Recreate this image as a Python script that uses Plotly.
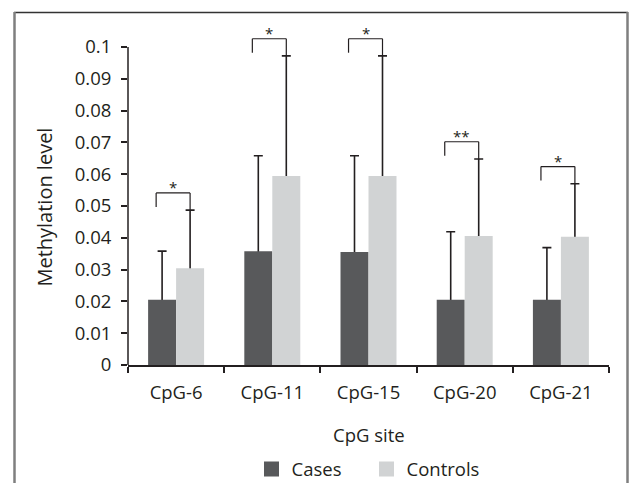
import plotly.graph_objects as go

# ---------------- data ----------------
sites = ["CpG-6", "CpG-11", "CpG-15", "CpG-20", "CpG-21"]
cases = [0.0205, 0.0358, 0.0355, 0.0205, 0.0205]
cases_sd = [0.0153, 0.0300, 0.0303, 0.0214, 0.0164]
controls = [0.0304, 0.0594, 0.0594, 0.0406, 0.0403]
controls_sd = [0.0183, 0.0378, 0.0378, 0.0242, 0.0167]
significance = ["*", "*", "*", "**", "*"]
y_tick_values = [0, 0.01, 0.02, 0.03, 0.04, 0.05, 0.06, 0.07, 0.08, 0.09, 0.1]
y_tick_labels = ["0", "0.01", "0.02", "0.03", "0.04", "0.05", "0.06", "0.07", "0.08", "0.09", "0.1"]

# ---------------- style ----------------
CASES_COLOR = "#58595b"
CONTROLS_COLOR = "#d1d3d4"
INK = "#231f20"
FONT = "Open Sans"
FS = 18.5

W, H = 636, 483
ML, MR, MT, MB = 128, 27, 28, 118
PW, PH = W - ML - MR, H - MT - MB
Y_TOP = 0.1 / ((PH - 19) / PH)   # room above 0.1 for the brackets

BARGAP = 0.418
HALF = (1 - BARGAP) / 4          # bar centre offset from category centre
BRACKET_GAP = 0.0054
BRACKET_LEG = 0.0044
BRACKET_OVERHANG = 0.062


def px2x(px):
    return (px - ML) / PW


def py2y(py):
    return (H - MB - py) / PH


fig = go.Figure()

# error bar carriers (transparent), drawn beneath the visible bars
for name, vals, sds in [("cases", cases, cases_sd), ("controls", controls, controls_sd)]:
    fig.add_trace(go.Bar(
        x=sites, y=vals, offsetgroup=name, showlegend=False, hoverinfo="skip",
        marker=dict(color="rgba(0,0,0,0)", line=dict(width=0)),
        error_y=dict(type="data", symmetric=False, array=sds, arrayminus=vals,
                     color=INK, thickness=1.6, width=4.5),
    ))

for name, vals, color in [("cases", cases, CASES_COLOR), ("controls", controls, CONTROLS_COLOR)]:
    fig.add_trace(go.Bar(
        x=sites, y=vals, offsetgroup=name, showlegend=False,
        marker=dict(color=color, line=dict(width=0)),
    ))

# legend proxies
for name, color in [("Cases", CASES_COLOR), ("Controls", CONTROLS_COLOR)]:
    fig.add_trace(go.Scatter(
        x=[None], y=[None], mode="markers", name=name,
        marker=dict(symbol="square", size=15, color=color),
    ))

shapes = []
annotations = []

# significance brackets
for i, (c, sd, lab) in enumerate(zip(controls, controls_sd, significance)):
    if not lab:
        continue
    top = c + sd + BRACKET_GAP
    xl = i - HALF - BRACKET_OVERHANG
    xr = i + HALF
    line = dict(color=INK, width=1.2)
    shapes.append(dict(type="line", xref="x", yref="y", x0=xl, x1=xl, y0=top - BRACKET_LEG, y1=top, line=line))
    shapes.append(dict(type="line", xref="x", yref="y", x0=xl, x1=xr, y0=top, y1=top, line=line))
    shapes.append(dict(type="line", xref="x", yref="y", x0=xr, x1=xr, y0=c + sd, y1=top, line=line))
    annotations.append(dict(x=(xl + xr) / 2, y=top, xref="x", yref="y", text=lab,
                            showarrow=False, yanchor="bottom", yshift=-6,
                            font=dict(family=FONT, size=15, color=INK)))

# y axis line from 0 to 0.1 only
shapes.append(dict(type="line", xref="paper", yref="y", x0=0, x1=0, y0=0, y1=0.1,
                   line=dict(color=INK, width=1.5)))

# outer frame
shapes.append(dict(type="line", xref="paper", yref="paper", x0=px2x(14), x1=px2x(628),
                   y0=py2y(12.5), y1=py2y(12.5), line=dict(color="#333333", width=1.5)))
shapes.append(dict(type="line", xref="paper", yref="paper", x0=px2x(14.5), x1=px2x(14.5),
                   y0=py2y(12), y1=py2y(495), line=dict(color="#7f7f7f", width=2.5)))
shapes.append(dict(type="line", xref="paper", yref="paper", x0=px2x(627.5), x1=px2x(627.5),
                   y0=py2y(12), y1=py2y(495), line=dict(color="#7f7f7f", width=2.5)))

# axis titles
annotations.append(dict(x=0.5, y=py2y(434), xref="paper", yref="paper", text="CpG site",
                        showarrow=False, xanchor="center", yanchor="middle",
                        font=dict(family=FONT, size=FS, color=INK)))
annotations.append(dict(x=px2x(45), y=0.0495, xref="paper", yref="y", text="Methylation level",
                        showarrow=False, xanchor="center", yanchor="middle", textangle=-90,
                        font=dict(family=FONT, size=20, color=INK)))

fig.update_layout(
    width=W, height=H,
    margin=dict(l=ML, r=MR, t=MT, b=MB, pad=0),
    paper_bgcolor="white", plot_bgcolor="white",
    barmode="group", bargap=BARGAP, bargroupgap=0,
    font=dict(family=FONT, size=FS, color=INK),
    shapes=shapes, annotations=annotations,
    legend=dict(orientation="h", xref="container", yref="container",
                x=251.5 / W, xanchor="left", y=(H - 469.5) / H, yanchor="middle",
                entrywidth=70, font=dict(family=FONT, size=FS, color=INK),
                bgcolor="rgba(0,0,0,0)"),
    xaxis=dict(type="category", showline=True, linecolor=INK, linewidth=1.5,
               ticks="outside", tickson="boundaries", ticklen=6, tickwidth=1.5, tickcolor=INK,
               showgrid=False, zeroline=False, ticklabelstandoff=10,
               tickfont=dict(family=FONT, size=FS, color=INK)),
    yaxis=dict(range=[0, Y_TOP], showline=False, tickvals=y_tick_values, ticktext=y_tick_labels,
               ticks="outside", ticklen=6, tickwidth=1.5, tickcolor=INK,
               showgrid=False, zeroline=False, ticklabelstandoff=6,
               tickfont=dict(family=FONT, size=FS, color=INK)),
)

fig.write_html("out.html", config={"displayModeBar": False},
               post_script="document.body.style.margin='0px';")
